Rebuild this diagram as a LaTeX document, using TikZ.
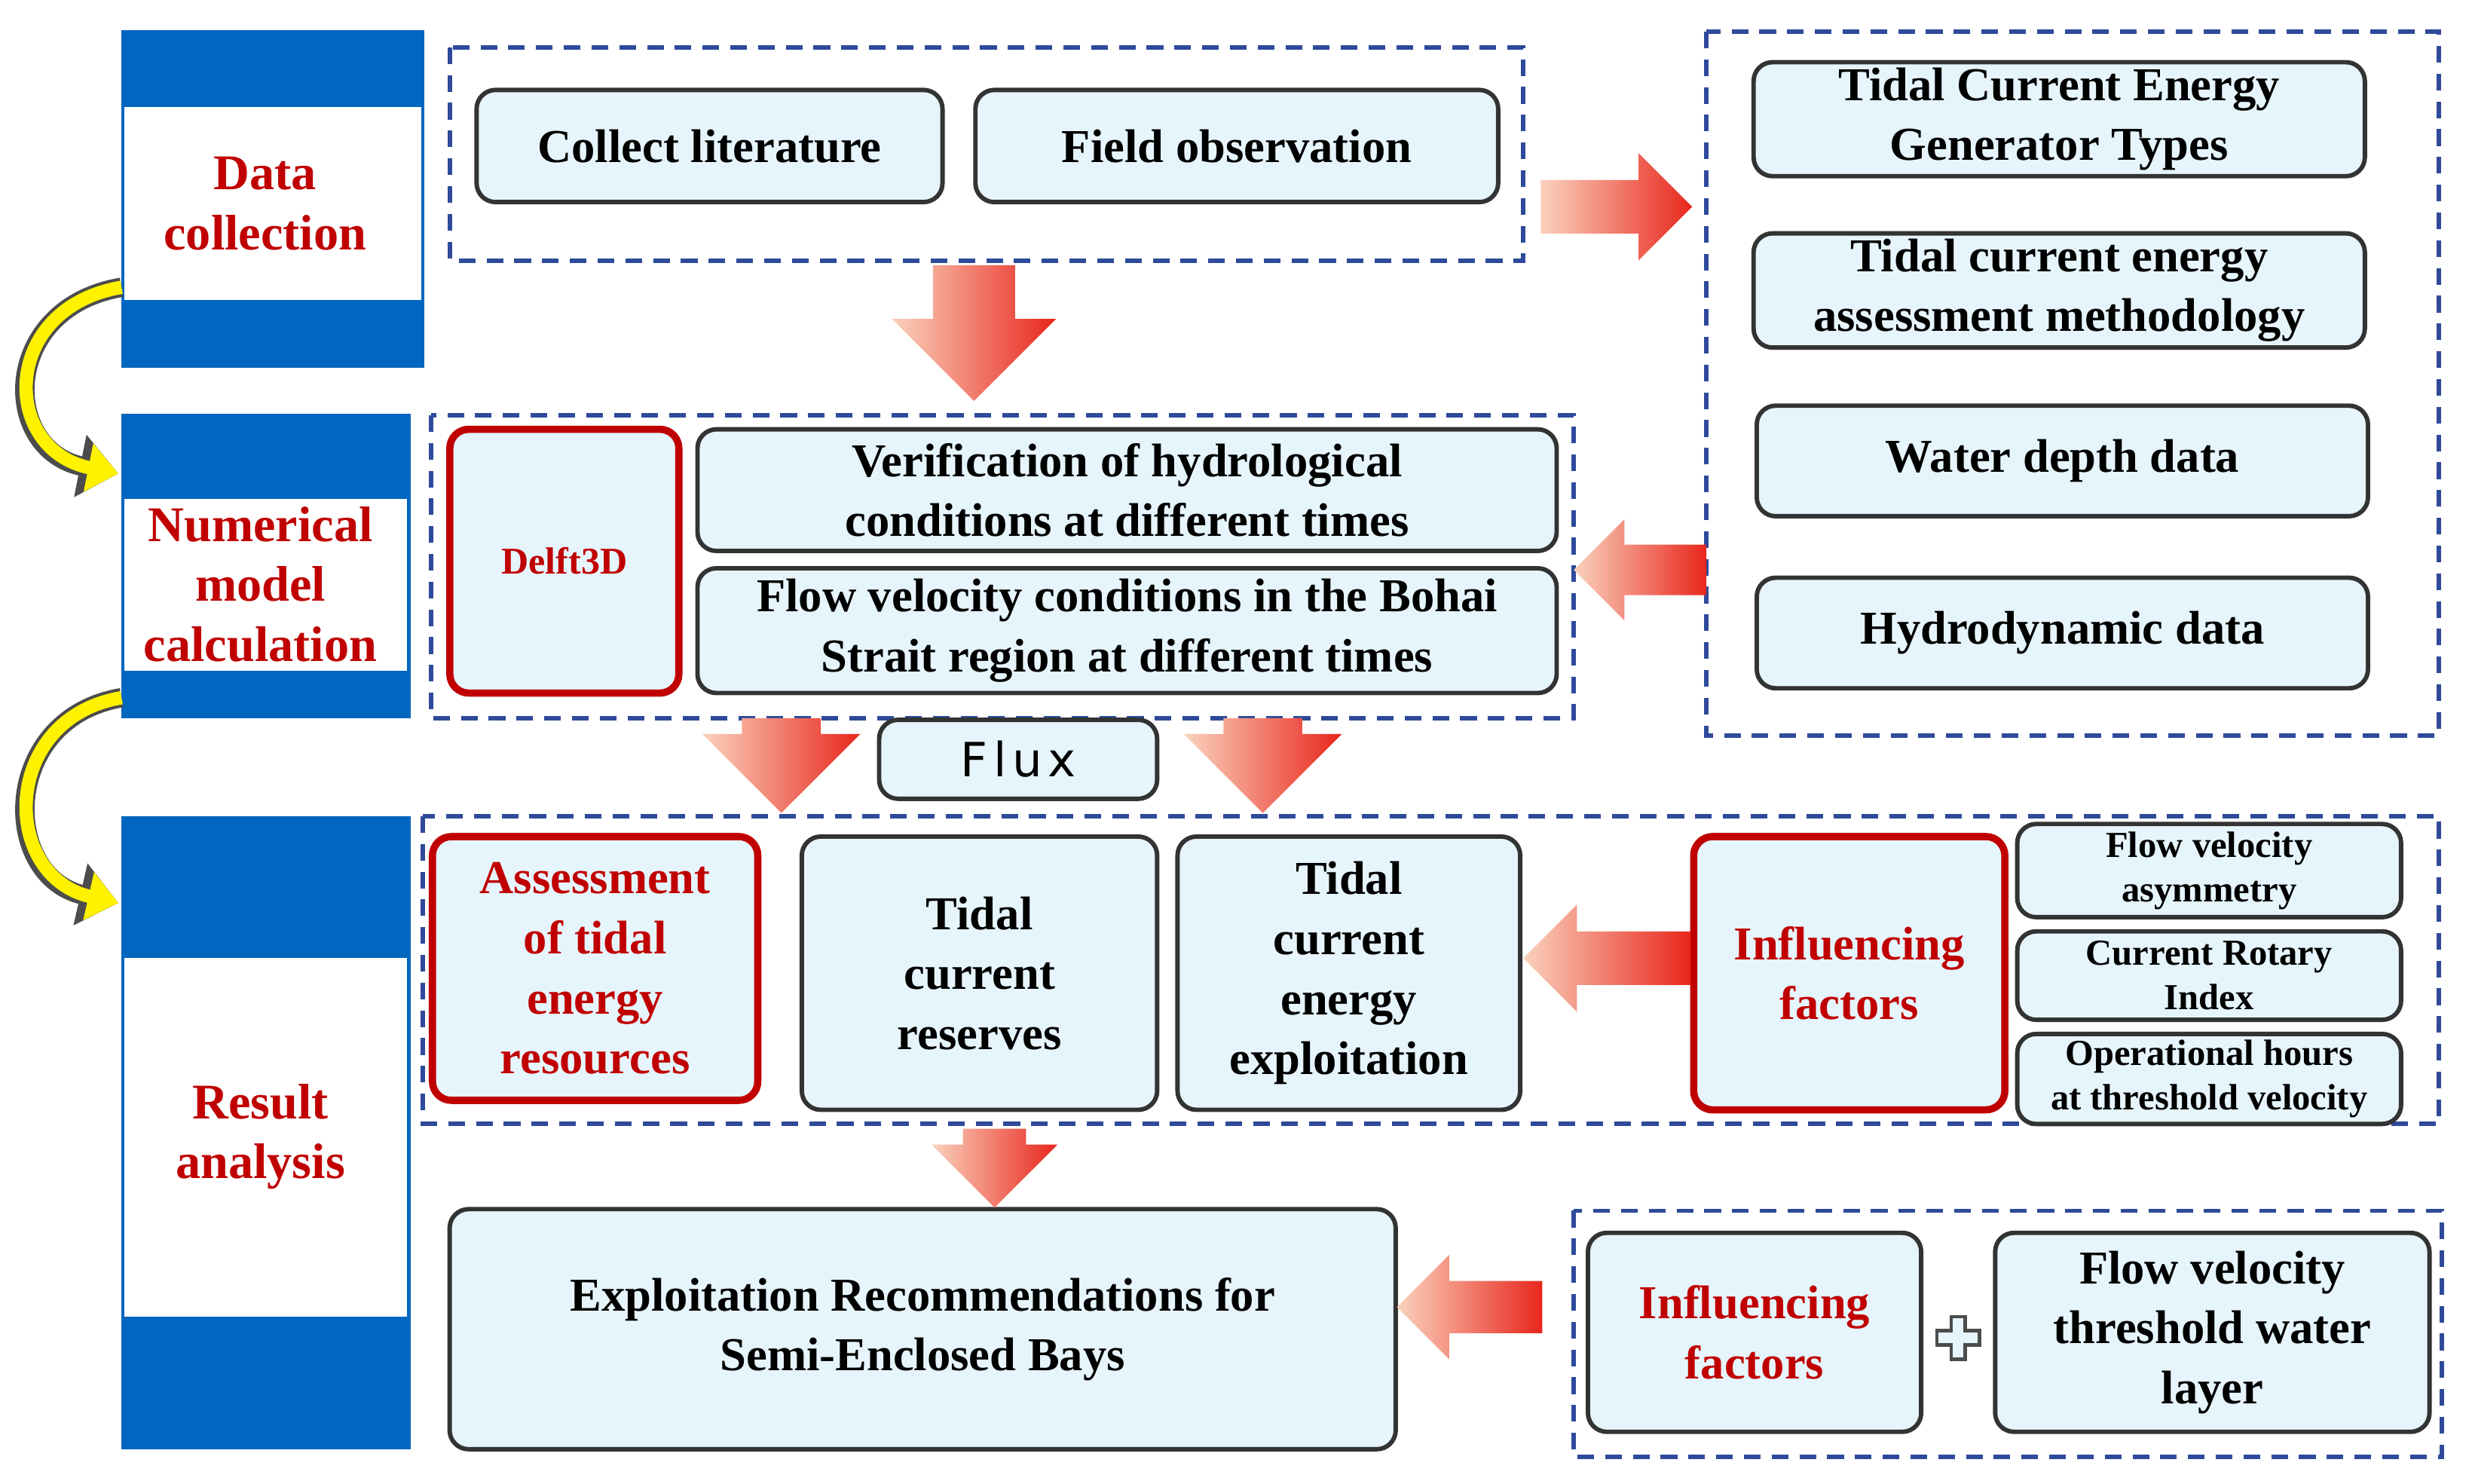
\documentclass[tikz,border=0pt]{standalone}
\usepackage{fontspec}
\setmainfont{Liberation Serif}
\newfontfamily\fluxfont{DejaVu Sans}
\usetikzlibrary{arrows.meta}
\definecolor{bandblue}{HTML}{0066C0}
\definecolor{boxfill}{HTML}{E6F5FC}
\definecolor{redtxt}{HTML}{C00000}
\definecolor{dashblue}{HTML}{2E4A9A}
\definecolor{arrred}{HTML}{E8261C}
\definecolor{arrlight}{HTML}{FAD2BD}
\newcommand\blockarrow[5]{% x,y center, angle, length, width
\begin{scope}[shift={(#1,#2)},rotate=#3]
\shade[left color=arrlight,right color=arrred,draw=none]
 (-#4/2,-#5/4)--(#4/2-#5/2,-#5/4)--(#4/2-#5/2,-#5/2)--(#4/2,0)--(#4/2-#5/2,#5/2)--(#4/2-#5/2,#5/4)--(-#4/2,#5/4)--cycle;
\end{scope}}
\tikzset{
 box/.style={draw=black!80,line width=0.8pt,rounded corners=0.12cm,fill=boxfill,align=center,inner sep=1pt,font=\fontsize{8.5}{10.8}\selectfont\bfseries},
 redbox/.style={box,draw=redtxt,line width=1.3pt,text=redtxt},
 small/.style={box,font=\fontsize{6.6}{8}\selectfont\bfseries},
 dashbox/.style={draw=dashblue,line width=0.8pt,dash pattern=on 3pt off 2pt},
 lbl/.style={text=redtxt,align=center,font=\fontsize{9}{10.8}\selectfont\bfseries},
 yarrow/.style={line width=3.5pt,draw=black!70,-{Triangle[length=7pt,width=11pt]}},
 yarrowin/.style={line width=2.4pt,draw=yellow,-{Triangle[length=5.5pt,width=8.5pt]}},
}
\begin{document}
\begin{tikzpicture}[x=0.01cm,y=-0.01cm]
\useasboundingbox (0,0) rectangle (1566,940);
% left column
\fill[bandblue] (77,19) rectangle (269,233);
\fill[white] (79,68) rectangle (267,190);
\node[lbl] (dc) at (168,129) {Data\\collection};
\fill[bandblue] (77,262) rectangle (260,455);
\fill[white] (79,316) rectangle (258,425);
\node[lbl] (nm) at (165,370) {Numerical\\model\\calculation};
\fill[bandblue] (77,517) rectangle (260,918);
\fill[white] (79,607) rectangle (258,834);
\node[lbl] (ra) at (165,720) {Result\\analysis};
\coordinate (y1s) at (77,182); \coordinate (y1e) at (75,300);
\coordinate (y2s) at (77,442); \coordinate (y2e) at (75,572);
\draw[yarrow] (y1s) .. controls (0,195) and (0,285) .. (y1e);
\draw[yarrowin] (y1s) .. controls (0,195) and (0,285) .. (y1e);
\draw[yarrow] (y2s) .. controls (0,455) and (0,555) .. (y2e);
\draw[yarrowin] (y2s) .. controls (0,455) and (0,555) .. (y2e);
% dashed boxes
\draw[dashbox] (285,30) rectangle (965,165);
\draw[dashbox] (1081,20) rectangle (1545,466);
\draw[dashbox] (273,263) rectangle (997,455);
\draw[dashbox] (268,517) rectangle (1545,712);
\draw[dashbox] (997,767) rectangle (1547,923);
% nodes
\node[box,minimum width=2.95cm,minimum height=0.71cm] (collect) at (449.5,92.5) {Collect literature};
\node[box,minimum width=3.31cm,minimum height=0.71cm] (field) at (783.5,92.5) {Field observation};
\node[box,minimum width=3.87cm,minimum height=0.71cm] (gen) at (1304.5,75.5) {Tidal Current Energy\\Generator Types};
\node[box,minimum width=3.87cm,minimum height=0.70cm] (meth) at (1304.5,184) {Tidal current energy\\assessment methodology};
\node[box,minimum width=3.87cm,minimum height=0.70cm] (depth) at (1306.5,292) {Water depth data};
\node[box,minimum width=3.87cm,minimum height=0.70cm] (hydro) at (1306.5,401) {Hydrodynamic data};
\node[redbox,minimum width=1.45cm,minimum height=1.67cm,font=\fontsize{6.8}{8}\selectfont\bfseries] (delft) at (357.5,355.5) {Delft3D};
\node[box,minimum width=5.44cm,minimum height=0.77cm] (verif) at (714,310.5) {Verification of hydrological\\conditions at different times};
\node[box,minimum width=5.44cm,minimum height=0.79cm] (flowv) at (714,399.5) {Flow velocity conditions in the Bohai\\Strait region at different times};
\node[box,minimum width=1.76cm,minimum height=0.50cm,font=\fontsize{8.5}{10}\fluxfont\addfontfeature{LetterSpace=12}] (flux) at (645,481) {Flux};
\node[redbox,minimum width=2.06cm,minimum height=1.67cm] (assres) at (377,613.5) {Assessment\\of tidal\\energy\\resources};
\node[box,minimum width=2.25cm,minimum height=1.73cm] (reserves) at (620.5,616.5) {Tidal\\current\\reserves};
\node[box,minimum width=2.17cm,minimum height=1.73cm] (exploit) at (854.5,616.5) {Tidal\\current\\energy\\exploitation};
\node[redbox,minimum width=1.97cm,minimum height=1.73cm] (infl) at (1171.5,616.5) {Influencing\\factors};
\node[small,minimum width=2.43cm,minimum height=0.59cm] (asym) at (1399.5,551.5) {Flow velocity\\asymmetry};
\node[small,minimum width=2.43cm,minimum height=0.56cm] (rot) at (1399.5,618) {Current Rotary\\Index};
\node[small,minimum width=2.43cm,minimum height=0.57cm] (ops) at (1399.5,683.5) {Operational hours\\at threshold velocity};
\node[box,minimum width=5.99cm,minimum height=1.52cm] (recom) at (584.5,842) {Exploitation Recommendations for\\Semi-Enclosed Bays};
\node[box,minimum width=2.11cm,minimum height=1.26cm,text=redtxt] (infl2) at (1111.5,844) {Influencing\\factors};
\node[box,minimum width=2.75cm,minimum height=1.26cm] (thresh) at (1401.5,844) {Flow velocity\\threshold water\\layer};
% plus sign
\filldraw[fill=boxfill,draw=black!70,line width=0.6pt]
 (1236,834)--(1245,834)--(1245,843)--(1254,843)--(1254,852)--(1245,852)--(1245,861)--(1236,861)--(1236,852)--(1227,852)--(1227,843)--(1236,843)--cycle;
% block arrows
\blockarrow{1024}{131}{0}{96}{68}
\blockarrow{617}{211}{-90}{86}{104}
\blockarrow{1039}{361}{180}{84}{64}
\blockarrow{495}{485}{-90}{60}{100}
\blockarrow{800}{485}{-90}{60}{100}
\blockarrow{1018}{607}{180}{106}{68}
\blockarrow{630}{740}{-90}{50}{80}
\blockarrow{931}{828}{180}{92}{66}
\end{tikzpicture}
\end{document}
